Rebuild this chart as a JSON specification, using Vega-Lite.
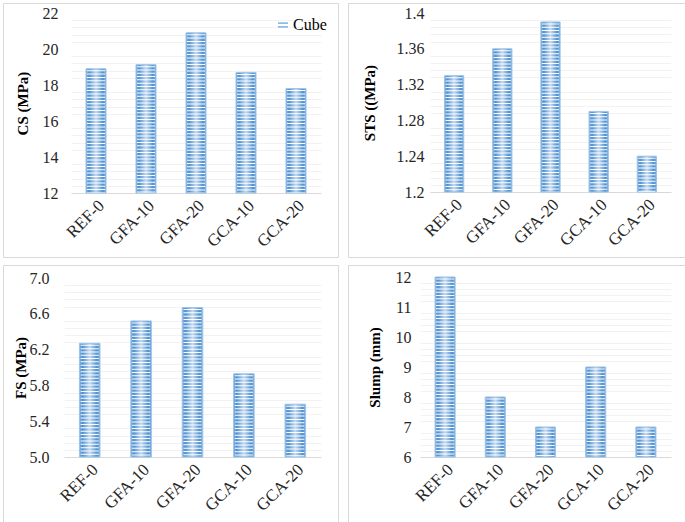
{
  "$schema": "https://vega.github.io/schema/vega-lite/v6.json",
  "padding": {"left": 2, "top": 2, "right": 0, "bottom": 0},
  "background": "white",
  "config": {
    "view": {"stroke": "#d9d9d9", "strokeWidth": 1},
    "font": "Liberation Serif",
    "axis": {
      "labelFont": "Liberation Serif", "labelFontSize": 16, "labelColor": "#262626",
      "titleFont": "Liberation Serif", "titleFontSize": 15, "titleFontWeight": "bold", "titleColor": "#000000",
      "ticks": false, "labelOverlap": false
    },
    "axisX": {"domainColor": "#d9d9d9", "grid": false, "labelAngle": -45, "labelPadding": 4, "title": null, "labelFontSize": 17},
    "axisY": {"domain": false, "grid": true, "gridWidth": 1}
  },
  "datasets": {
    "cs": [
      {"mix": "REF-0", "value": 18.9},
      {"mix": "GFA-10", "value": 19.13},
      {"mix": "GFA-20", "value": 20.9},
      {"mix": "GCA-10", "value": 18.7},
      {"mix": "GCA-20", "value": 17.8}
    ],
    "sts": [
      {"mix": "REF-0", "value": 1.33},
      {"mix": "GFA-10", "value": 1.36},
      {"mix": "GFA-20", "value": 1.39},
      {"mix": "GCA-10", "value": 1.29},
      {"mix": "GCA-20", "value": 1.24}
    ],
    "fs": [
      {"mix": "REF-0", "value": 6.27},
      {"mix": "GFA-10", "value": 6.52},
      {"mix": "GFA-20", "value": 6.67},
      {"mix": "GCA-10", "value": 5.93},
      {"mix": "GCA-20", "value": 5.59}
    ],
    "slump": [
      {"mix": "REF-0", "value": 12},
      {"mix": "GFA-10", "value": 8},
      {"mix": "GFA-20", "value": 7},
      {"mix": "GCA-10", "value": 9},
      {"mix": "GCA-20", "value": 7}
    ]
  },
  "spacing": 6,
  "vconcat": [
    {
      "spacing": 8,
      "hconcat": [
        {
          "width": 335, "height": 254,
          "data": {"name": "cs"},
          "resolve": {"axis": {"y": "independent"}},
          "encoding": {
            "x": {"field": "mix", "type": "nominal", "sort": null,
              "scale": {"range": [68, 318], "paddingInner": 0.6, "paddingOuter": 0.3},
              "axis": {"offset": -64}}
          },
          "layer": [
            {"mark": {"type": "bar", "stroke": "#9dc3e6", "strokeWidth": 1,
              "fill": {"gradient": "linear", "x1": 0, "y1": 0, "x2": 1, "y2": 0,
                "stops": [{"offset": 0, "color": "#7fb0e2"}, {"offset": 0.15, "color": "#4f91d0"}, {"offset": 0.5, "color": "#c4daf2"}, {"offset": 0.85, "color": "#4f91d0"}, {"offset": 1, "color": "#7fb0e2"}]}},
              "encoding": {
                "y": {"field": "value", "type": "quantitative",
                  "scale": {"domain": [12, 22], "range": [190, 10], "nice": false, "zero": false},
                  "axis": {"orient": "left", "offset": -68, "labels": false, "title": null, "gridColor": "#f2f2f2",
                    "values": [12.4,12.8,13.2,13.6,14.4,14.8,15.2,15.6,16.4,16.8,17.2,17.6,18.4,18.8,19.2,19.6,20.4,20.8,21.2,21.6]}},
                "y2": {"datum": 12},
                "color": {"datum": "Cube", "scale": {"range": ["#8fbbe8"]},
                  "legend": {"title": null, "orient": "none", "legendX": 272, "legendY": 14,
                    "symbolType": "M-1,-0.55H1V-0.2H-1Z M-1,0.2H1V0.55H-1Z", "symbolSize": 100, "symbolStrokeWidth": 0,
                    "symbolOpacity": 1,
                    "labelFont": "Liberation Serif", "labelFontSize": 16, "labelColor": "#000000", "labelOffset": 2}}}},
            {"mark": {"type": "rule", "color": "white", "strokeWidth": 18, "strokeDash": [1.0, 2.3], "strokeCap": "butt", "strokeDashOffset": -1.5},
              "encoding": {
                "y": {"field": "value", "type": "quantitative",
                  "axis": {"orient": "left", "offset": -68, "labelPadding": 13, "titlePadding": 12, "title": "CS (MPa)",
                    "gridColor": "#d9d9d9", "format": "~g", "values": [12, 14, 16, 18, 20, 22],
                    "labelFont": "Liberation Serif", "titleFont": "Liberation Serif"}},
                "y2": {"datum": 12}}}
          ]
        },
        {
          "width": 338, "height": 254,
          "data": {"name": "sts"},
          "resolve": {"axis": {"y": "independent"}},
          "encoding": {
            "x": {"field": "mix", "type": "nominal", "sort": null,
              "scale": {"range": [82, 323], "paddingInner": 0.6, "paddingOuter": 0.3},
              "axis": {"offset": -65}}
          },
          "layer": [
            {"mark": {"type": "bar", "stroke": "#9dc3e6", "strokeWidth": 1,
              "fill": {"gradient": "linear", "x1": 0, "y1": 0, "x2": 1, "y2": 0,
                "stops": [{"offset": 0, "color": "#7fb0e2"}, {"offset": 0.15, "color": "#4f91d0"}, {"offset": 0.5, "color": "#c4daf2"}, {"offset": 0.85, "color": "#4f91d0"}, {"offset": 1, "color": "#7fb0e2"}]}},
              "encoding": {
                "y": {"field": "value", "type": "quantitative",
                  "scale": {"domain": [1.2, 1.4], "range": [189, 10], "nice": false, "zero": false},
                  "axis": {"orient": "left", "offset": -82, "labels": false, "title": null, "gridColor": "#f2f2f2",
                    "values": [1.208,1.216,1.224,1.232,1.248,1.256,1.264,1.272,1.288,1.296,1.304,1.312,1.328,1.336,1.344,1.352,1.368,1.376,1.384,1.392]}},
                "y2": {"datum": 1.2}}},
            {"mark": {"type": "rule", "color": "white", "strokeWidth": 17, "strokeDash": [1.0, 2.3], "strokeCap": "butt", "strokeDashOffset": -1.5},
              "encoding": {
                "y": {"field": "value", "type": "quantitative",
                  "axis": {"orient": "left", "offset": -82, "labelPadding": 6, "titlePadding": 19, "title": "STS ((MPa)",
                    "gridColor": "#d9d9d9", "format": "~g", "values": [1.2, 1.24, 1.28, 1.32, 1.36, 1.4],
                    "labelFont": "Liberation Serif", "titleFont": "Liberation Serif"}},
                "y2": {"datum": 1.2}}}
          ]
        }
      ]
    },
    {
      "spacing": 8,
      "hconcat": [
        {
          "width": 335, "height": 258,
          "data": {"name": "fs"},
          "resolve": {"axis": {"y": "independent"}},
          "encoding": {
            "x": {"field": "mix", "type": "nominal", "sort": null,
              "scale": {"range": [61, 318], "paddingInner": 0.6, "paddingOuter": 0.3},
              "axis": {"offset": -66}}
          },
          "layer": [
            {"mark": {"type": "bar", "stroke": "#9dc3e6", "strokeWidth": 1,
              "fill": {"gradient": "linear", "x1": 0, "y1": 0, "x2": 1, "y2": 0,
                "stops": [{"offset": 0, "color": "#7fb0e2"}, {"offset": 0.15, "color": "#4f91d0"}, {"offset": 0.5, "color": "#c4daf2"}, {"offset": 0.85, "color": "#4f91d0"}, {"offset": 1, "color": "#7fb0e2"}]}},
              "encoding": {
                "y": {"field": "value", "type": "quantitative",
                  "scale": {"domain": [5, 7], "range": [192, 13], "nice": false, "zero": false},
                  "axis": {"orient": "left", "offset": -61, "labels": false, "title": null, "gridColor": "#f2f2f2",
                    "values": [5.08,5.16,5.24,5.32,5.48,5.56,5.64,5.72,5.88,5.96,6.04,6.12,6.28,6.36,6.44,6.52,6.68,6.76,6.84,6.92]}},
                "y2": {"datum": 5}}},
            {"mark": {"type": "rule", "color": "white", "strokeWidth": 18, "strokeDash": [1.0, 2.3], "strokeCap": "butt", "strokeDashOffset": -1.5},
              "encoding": {
                "y": {"field": "value", "type": "quantitative",
                  "axis": {"orient": "left", "offset": -61, "labelPadding": 15, "titlePadding": 1, "title": "FS (MPa)",
                    "gridColor": "#d9d9d9", "format": ".1f", "values": [5, 5.4, 5.8, 6.2, 6.6, 7],
                    "labelFont": "Liberation Serif", "titleFont": "Liberation Serif"}},
                "y2": {"datum": 5}}}
          ]
        },
        {
          "width": 338, "height": 258,
          "data": {"name": "slump"},
          "resolve": {"axis": {"y": "independent"}},
          "encoding": {
            "x": {"field": "mix", "type": "nominal", "sort": null,
              "scale": {"range": [72, 323], "paddingInner": 0.6, "paddingOuter": 0.3},
              "axis": {"offset": -66}}
          },
          "layer": [
            {"mark": {"type": "bar", "stroke": "#9dc3e6", "strokeWidth": 1,
              "fill": {"gradient": "linear", "x1": 0, "y1": 0, "x2": 1, "y2": 0,
                "stops": [{"offset": 0, "color": "#7fb0e2"}, {"offset": 0.15, "color": "#4f91d0"}, {"offset": 0.5, "color": "#c4daf2"}, {"offset": 0.85, "color": "#4f91d0"}, {"offset": 1, "color": "#7fb0e2"}]}},
              "encoding": {
                "y": {"field": "value", "type": "quantitative",
                  "scale": {"domain": [6, 12], "range": [192, 12], "nice": false, "zero": false},
                  "axis": {"orient": "left", "offset": -72, "labels": false, "title": null, "gridColor": "#f2f2f2",
                    "values": [6.2,6.4,6.6,6.8,7.2,7.4,7.6,7.8,8.2,8.4,8.6,8.8,9.2,9.4,9.6,9.8,10.2,10.4,10.6,10.8,11.2,11.4,11.6,11.8]}},
                "y2": {"datum": 6}}},
            {"mark": {"type": "rule", "color": "white", "strokeWidth": 18, "strokeDash": [1.0, 2.3], "strokeCap": "butt", "strokeDashOffset": -1.5},
              "encoding": {
                "y": {"field": "value", "type": "quantitative",
                  "axis": {"orient": "left", "offset": -72, "labelPadding": 9, "titlePadding": 13, "title": "Slump (mm)",
                    "gridColor": "#d9d9d9", "format": "d", "values": [6, 7, 8, 9, 10, 11, 12],
                    "labelFont": "Liberation Serif", "titleFont": "Liberation Serif"}},
                "y2": {"datum": 6}}}
          ]
        }
      ]
    }
  ]
}
